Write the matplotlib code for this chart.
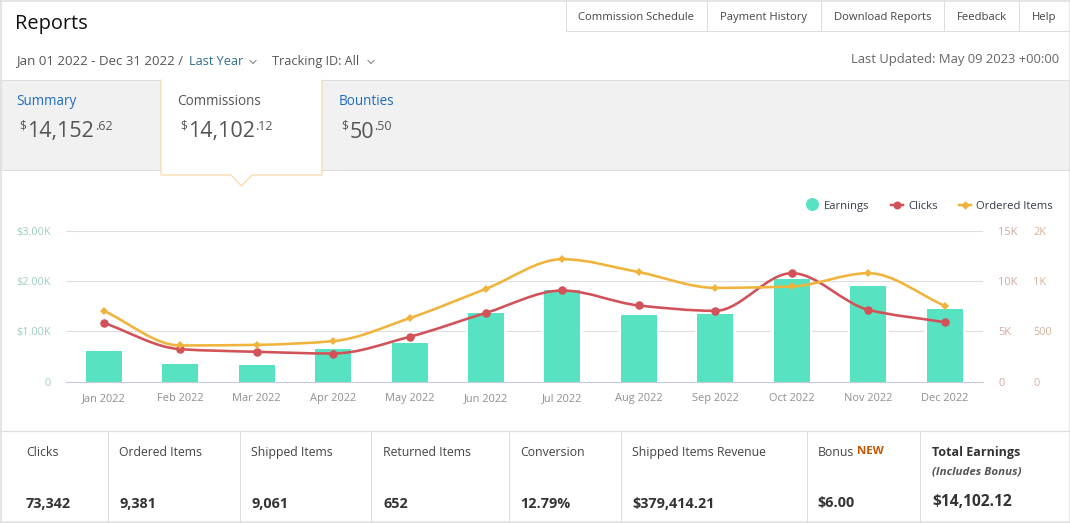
import numpy as np
import matplotlib
matplotlib.use("Agg")
import matplotlib.pyplot as plt
from matplotlib.path import Path
from matplotlib.patches import PathPatch, Rectangle, Polygon
from matplotlib.ticker import FixedLocator, FixedFormatter

plt.rcParams['font.family'] = ['Open Sans', 'Noto Sans', 'DejaVu Sans']

months = ['Jan 2022', 'Feb 2022', 'Mar 2022', 'Apr 2022', 'May 2022', 'Jun 2022',
          'Jul 2022', 'Aug 2022', 'Sep 2022', 'Oct 2022', 'Nov 2022', 'Dec 2022']
earnings = [603, 344, 325, 642, 762, 1358, 1815, 1318, 1338, 2033, 1894, 1437]
clicks = [5830, 3210, 2950, 2780, 4440, 6820, 9040, 7550, 7020, 10760, 7120, 5890]
ordered = [702, 358, 364, 401, 629, 921, 1215, 1086, 930, 944, 1076, 752]

earn_ticks = [0, 1000, 2000, 3000]
earn_labels = ['0', '$1.00K', '$2.00K', '$3.00K']
click_ticks = [0, 5000, 10000, 15000]
click_labels = ['0', '5K', '10K', '15K']
order_ticks = [0, 500, 1000, 1500]
order_labels = ['0', '500', '1K', '2K']

nav_items = ['Commission Schedule', 'Payment History', 'Download Reports', 'Feedback', 'Help']
kpi_labels = ['Clicks', 'Ordered Items', 'Shipped Items', 'Returned Items', 'Conversion',
              'Shipped Items Revenue', 'Bonus']
kpi_values = ['73,342', '9,381', '9,061', '652', '12.79%', '$379,414.21', '$6.00']

W, H = 1070, 523
fig = plt.figure(figsize=(W / 100, H / 100), dpi=100, facecolor='white')
px = 0.72  # points per pixel at dpi 100

# ---------- page chrome, in pixel coordinates ----------
bg = fig.add_axes([0, 0, 1, 1], zorder=0)
bg.set_xlim(0, W)
bg.set_ylim(H, 0)
bg.axis('off')
BORDER = '#dddddd'


def line(xs, ys, color=BORDER, lw=1.0, z=2):
    bg.plot(xs, ys, color=color, lw=lw * px, solid_capstyle='butt', zorder=z)


def text(x, y, s, size=13, color='#555555', ha='left', z=5, **kw):
    # y is the text baseline
    x = x - 0.7 if ha == 'left' else x
    return bg.text(x, y, s, fontsize=size * px, color=color, ha=ha, va='baseline', zorder=z, **kw)


def chevron(x, y):
    bg.plot([x - 3, x, x + 3], [y - 1.5, y + 1.5, y - 1.5], color='#777777', lw=0.7, zorder=5)


# outer frame
line([0.5, 0.5], [0, H], lw=1.5)
line([0, W], [0.5, 0.5], lw=1.5)
line([W - 0.5, W - 0.5], [0, H], lw=1.5)
line([0, W], [H - 0.8, H - 0.8], lw=1.5)

# top nav
text(16, 29.5, 'Reports', size=20, color='#111111')
nav_edges = [566, 707, 821, 944, 1019, 1069]
for i, item in enumerate(nav_items):
    line([nav_edges[i], nav_edges[i]], [0, 31])
    text((nav_edges[i] + nav_edges[i + 1]) / 2, 20, item, size=11.3, color='#444444', ha='center')
line([566, W], [31, 31])

# filters
text(17, 64.5, 'Jan 01 2022 - Dec 31 2022 /', size=13.2, color='#555555')
text(189.7, 64.7, 'Last Year', size=12.6, color='#2b6f8c')
chevron(253, 62)
text(272.7, 64.5, 'Tracking ID: All', size=12.6, color='#555555')
chevron(371, 62)
text(1059, 63.5, 'Last Updated: May 09 2023 +00:00', size=13, color='#666666', ha='right')

# tab band
bg.add_patch(Rectangle((0, 80), W, 90, facecolor='#f1f1f1', edgecolor='none', zorder=1))
line([0, W], [80, 80])
line([0, W], [170, 170])
tab = Polygon([(161, 80), (322, 80), (322, 175), (252, 175), (241.5, 186),
               (231, 175), (161, 175)], closed=False,
              facecolor='white', edgecolor='none', zorder=3)
bg.add_patch(tab)
bg.plot([161, 161, 231, 241.5, 252, 322, 322],
        [80, 175, 175, 186, 175, 175, 80], color='#f8d394', lw=1 * px, zorder=4)

tabs = [(17, 'Summary', '#1d6cc0', '14,152', '.62', 20, 28, 95.5),
        (178, 'Commissions', '#555555', '14,102', '.12', 181, 189, 256),
        (339, 'Bounties', '#1d6cc0', '50', '.50', 342, 350, 375)]
for x, name, col, whole, cents, dx, wx, cx in tabs:
    text(x, 105, name, size=13.5, color=col)
    text(dx, 130, '$', size=12, color='#555555')
    text(wx, 137.5, whole, size=21.5, color='#555555')
    text(cx, 130.5, cents, size=12.5, color='#555555')

# legend
bg.scatter([812], [204], s=(13 * px) ** 2, color='#57e3c1', zorder=5, linewidths=0)
text(824.7, 209, 'Earnings', size=11.2, color='#333a4a')
bg.plot([891, 903], [205, 205], color='#d15258', lw=2.5 * px, zorder=5)
bg.scatter([897], [205], s=(8 * px) ** 2, color='#d15258', zorder=6, linewidths=0)
text(908.7, 209, 'Clicks', size=11.2, color='#333a4a')
bg.plot([959, 971], [205, 205], color='#f0b43c', lw=2.5 * px, zorder=5)
bg.scatter([965], [205], s=(6 * px) ** 2, marker='D', color='#f0b43c', zorder=6, linewidths=0)
text(976.7, 209, 'Ordered Items', size=11.2, color='#333a4a')

# KPI table
line([0, W], [431, 431], lw=1.2)
for x in [108, 240, 371, 509, 621, 807, 920]:
    line([x, x], [431, H])
kpi_x = [26.5, 119.7, 251.7, 383.7, 520.5, 632.7, 818.5]
for x, lab, val in zip(kpi_x, kpi_labels, kpi_values):
    text(x, 456, lab, size=12.3, color='#444444')
    text(x, 507.5, val, size=14.4, color='#333333', fontweight='bold')
text(857.5, 454.5, 'NEW', size=11.5, color='#c45500', fontweight='bold')
text(932.7, 456, 'Total Earnings', size=12.5, color='#333333', fontweight='bold')
text(932.7, 474, '(Includes Bonus)', size=11.5, color='#555555', fontweight='bold', fontstyle='italic')
text(932.7, 506, '$14,102.12', size=15.5, color='#333333', fontweight='bold')

# ---------- chart ----------
L, R, T, B = 65.5, 983, 230.5, 381.5
rect = [L / W, 1 - B / H, (R - L) / W, (B - T) / H]
ax = fig.add_axes(rect, zorder=2)
ax.patch.set_alpha(0)
ax2 = ax.twinx()
ax3 = ax.twinx()
x = np.arange(len(months))
ax.set_xlim(-0.5, len(months) - 0.5)
ax.set_ylim(0, 3000)
ax2.set_ylim(0, 15000)
ax3.set_ylim(0, 1500)

# white halo that breaks the gridlines beside each bar
ax.bar(x, earnings, width=41 / 76.45, color='white', linewidth=0, zorder=2)
ax.bar(x, earnings, width=36 / 76.45, color='#57e3c1', linewidth=0, zorder=3, label='Earnings')
ax.yaxis.grid(True, color='#dedede', lw=1.1 * px, zorder=1)
ax.set_axisbelow(True)
for a in (ax, ax2, ax3):
    for s in a.spines.values():
        s.set_visible(False)
ax.spines['bottom'].set_visible(True)
ax.spines['bottom'].set_color('#c5cbdc')
ax.spines['bottom'].set_linewidth(1.1 * px)
ax.spines['bottom'].set_zorder(5)

ax.set_xticks(x)
ax.set_xticklabels(months, fontsize=11 * px, color='#8f8f8f', va='baseline')
ax.tick_params(axis='x', length=0, pad=14)
ax.yaxis.set_major_locator(FixedLocator(earn_ticks))
ax.yaxis.set_major_formatter(FixedFormatter(earn_labels))
ax.tick_params(axis='y', length=0, pad=10.5, labelsize=11 * px, labelcolor='#9fcdbf')

ax2.yaxis.set_major_locator(FixedLocator(click_ticks))
ax2.yaxis.set_major_formatter(FixedFormatter(click_labels))
ax2.tick_params(axis='y', length=0, pad=11, labelsize=11 * px, labelcolor='#d4a79c')
ax3.yaxis.set_major_locator(FixedLocator(order_ticks))
ax3.yaxis.set_major_formatter(FixedFormatter(order_labels))
ax3.tick_params(axis='y', length=0, pad=36, labelsize=11 * px, labelcolor='#d6b39d')


def smooth_path(xs, ys):
    """Monotone cubic Bezier through the data points."""
    xs, ys = np.asarray(xs, float), np.asarray(ys, float)
    d = np.diff(ys) / np.diff(xs)
    m = np.zeros_like(ys)
    m[0], m[-1] = d[0], d[-1]
    for i in range(1, len(ys) - 1):
        m[i] = 0 if d[i - 1] * d[i] <= 0 else 2 * d[i - 1] * d[i] / (d[i - 1] + d[i])
    verts, codes = [(xs[0], ys[0])], [Path.MOVETO]
    for i in range(len(xs) - 1):
        h = xs[i + 1] - xs[i]
        verts += [(xs[i] + h / 3, ys[i] + m[i] * h / 3),
                  (xs[i + 1] - h / 3, ys[i + 1] - m[i + 1] * h / 3),
                  (xs[i + 1], ys[i + 1])]
        codes += [Path.CURVE4] * 3
    return Path(verts, codes)


ax2.add_patch(PathPatch(smooth_path(x, clicks), facecolor='none', edgecolor='#d15258',
                        lw=2.6 * px, zorder=4))
ax2.plot(x, clicks, ls='none', marker='o', ms=8.5 * px, color='#d15258', mew=0, zorder=5,
         clip_on=False, label='Clicks')
ax3.add_patch(PathPatch(smooth_path(x, ordered), facecolor='none', edgecolor='#f0b43c',
                        lw=2.6 * px, zorder=4))
ax3.plot(x, ordered, ls='none', marker='D', ms=5.5 * px, color='#f0b43c', mew=0, zorder=5,
         clip_on=False, label='Ordered Items')

fig.savefig('out.png', dpi=100)
